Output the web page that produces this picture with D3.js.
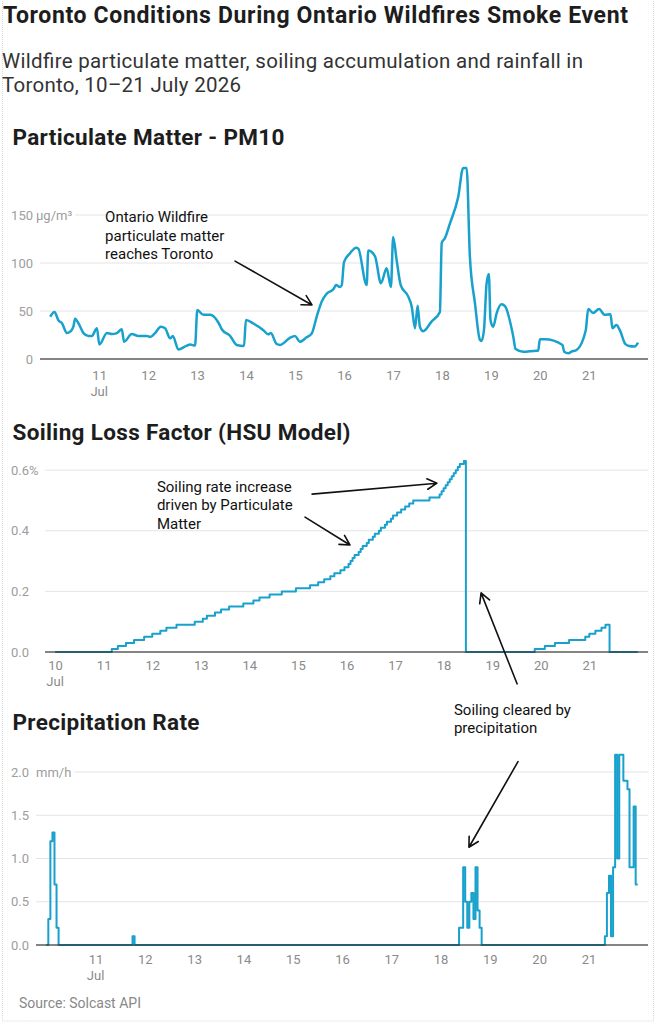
<!DOCTYPE html>
<html>
<head>
<meta charset="utf-8">
<script src="https://cdn.jsdelivr.net/npm/d3@7"></script>
<style>
  body { margin: 0; background: #fff; font-family: Roboto, sans-serif; }
</style>
</head>
<body>
<div id="chart"></div>
<script>
// hours are counted from 10 July 2026 00:00
const start = Date.UTC(2026, 6, 10);
const toDate = h => new Date(start + h * 3600e3);

// PM10, µg/m³
const pmHours = [0, 2.1, 4.1, 5.7, 8.2, 9.8, 11.4, 12.2, 13.9, 16.3, 18.8, 20.4, 22.9, 24.1, 27.8, 30.2, 32.7, 35.1, 36.2, 40,
  43.2, 47.4, 49, 51.4, 54.2, 56.3, 58.8, 60.1, 62.8, 67, 68.6, 71, 72.1, 75.1, 78.4, 82.4, 84.1, 88.2, 91.4, 95,
  95.9, 99.6, 104.5, 106.9, 108.1, 111, 112.7, 117.5, 120, 122.4, 125.7, 128.2, 130.6, 133.1, 135.5, 138.8, 140.1, 142, 142.9, 144,
  146.9, 149.9, 151, 155.1, 155.9, 159.2, 162.1, 164.9, 167, 168.1, 169.8, 171.8, 175.5, 177.2, 178.8, 180.1, 181.2, 182.8, 186.9, 191,
  191.9, 193.5, 195.9, 200, 202.4, 204.1, 205.7, 208.2, 210.6, 211.4, 212.6, 213.9, 215, 215.8, 217.1, 218.8, 221.2, 222.9, 227, 228.1,
  231.8, 238.4, 239.2, 240, 242.4, 251.1, 251.9, 254, 255.5, 258, 262.5, 263.7, 266.1, 269, 271.8, 274.6, 275.6, 277.5, 279.2, 281.9,
  283.7, 286.5, 288.1];
const pmValues = [44, 49, 40, 37.5, 27, 28.5, 34, 42, 37, 27, 24, 24, 32, 15, 27, 26, 27, 31, 18, 26,
  24, 24, 23, 27, 33.6, 32, 21.5, 24, 10, 14, 15, 14, 51, 46, 46, 38, 31, 24, 14.6, 13.5,
  40.6, 37, 30, 25.7, 27, 15.6, 14.6, 22, 24, 18, 22.6, 26.7, 44, 60, 68, 72.6, 77, 75, 77, 101,
  110, 116, 115, 77, 113, 107, 79, 94.5, 75, 127, 103, 77, 65, 54.5, 32, 55.5, 33.6, 29, 39, 49,
  121, 126, 141, 169, 199, 199, 106.6, 58, 20, 18.7, 30, 79, 88.5, 40.6, 33.6, 47.6, 57, 55, 23, 10.4,
  7.6, 8.7, 8.7, 20.5, 20.5, 14.6, 7.6, 6, 7.6, 9.4, 30, 52, 48, 52, 46, 46.5, 32, 35.4, 30, 15.6,
  13.5, 13, 17];

// soiling loss, %, at the hours where the value changes
const soilHours = [0, 28, 31, 35, 39, 44, 48, 52, 55, 60, 69, 73, 75, 79, 82, 86, 93, 98, 101, 106,
  112, 119, 126, 130, 133, 136, 138, 141, 143, 145, 146, 147, 148, 150, 151, 152, 154, 155, 157, 158,
  160, 161, 163, 164, 166, 167, 169, 171, 173, 175, 177, 185, 190, 191, 192, 193, 194, 195, 196, 197,
  198, 199, 200, 202, 203, 237, 242, 247, 254, 262, 264, 267, 270, 272, 274, 288];
const soilValues = [0, 0.01, 0.02, 0.03, 0.04, 0.05, 0.06, 0.07, 0.08, 0.09, 0.10, 0.11, 0.12, 0.13, 0.14, 0.15, 0.16, 0.17, 0.18, 0.19,
  0.20, 0.21, 0.22, 0.23, 0.24, 0.25, 0.26, 0.27, 0.28, 0.29, 0.30, 0.31, 0.32, 0.33, 0.34, 0.35, 0.36, 0.37, 0.38, 0.39,
  0.40, 0.41, 0.42, 0.43, 0.44, 0.45, 0.46, 0.47, 0.48, 0.49, 0.50, 0.51, 0.52, 0.53, 0.54, 0.55, 0.56, 0.57, 0.58, 0.59,
  0.60, 0.61, 0.62, 0.63, 0, 0.01, 0.02, 0.03, 0.04, 0.05, 0.06, 0.07, 0.08, 0.09, 0, 0];

// precipitation, mm/h, at the hours where the value changes
const rainHours = [0, 1, 2, 3, 4, 5, 6, 42, 43, 201, 203, 204, 205, 206, 207, 208, 209, 210, 211, 212,
  272, 273, 274, 275, 276, 277, 278, 279, 281, 283, 284, 286, 287, 288];
const rainValues = [0, 0.3, 1.2, 1.3, 0.7, 0.2, 0, 0.1, 0, 0.2, 0.9, 0.5, 0.2, 0.5, 0.6, 0.3, 0.9, 0.4, 0.2, 0,
  0.1, 0.6, 0.8, 0.1, 0.9, 2.2, 1.0, 2.2, 1.9, 1.8, 0.9, 1.6, 0.7, 0.7];

const pmTickDays = [11, 12, 13, 14, 15, 16, 17, 18, 19, 20, 21];
const soilTickDays = [10, 11, 12, 13, 14, 15, 16, 17, 18, 19, 20, 21];
const rainTickDays = [11, 12, 13, 14, 15, 16, 17, 18, 19, 20, 21];

const pmTicks = [0, 50, 100, 150];
const soilTicks = [0, 0.2, 0.4, 0.6];
const rainTicks = [0, 0.5, 1, 1.5, 2];

const blue = "#18a1cd";
const width = 660, height = 1024;

const svg = d3.select("#chart").append("svg")
    .attr("width", width)
    .attr("height", height)
    .style("font-family", "Roboto, sans-serif");

// faint frame round the graphic
svg.append("rect")
    .attr("x", 2.5).attr("y", -2).attr("width", 651).attr("height", 1023)
    .attr("fill", "none").attr("stroke", "#d8d8d8").attr("stroke-dasharray", "1,1");

// the headings in the original are set a little wider than plain Roboto, hence textLength
svg.append("text")
    .attr("x", 3).attr("y", 23)
    .attr("font-size", 23).attr("font-weight", 700).attr("fill", "#1d1d1d")
    .attr("textLength", 625)
    .text("Toronto Conditions During Ontario Wildfires Smoke Event");

svg.append("text")
    .attr("font-size", 20.5).attr("fill", "#333")
    .selectAll("tspan")
    .data([["Wildfire particulate matter, soiling accumulation and rainfall in", 581], ["Toronto, 10\u201321 July 2026", 239]])
    .join("tspan")
    .attr("x", 2).attr("y", (d, i) => 67.5 + i * 24.5)
    .attr("textLength", d => d[1])
    .text(d => d[0]);

svg.append("text")
    .attr("x", 19).attr("y", 1008)
    .attr("font-size", 14).attr("fill", "#888")
    .text("Source: Solcast API");

// x domain shared by the three panels: 9 Jul 19:00 to 22 Jul 05:00
const timeDomain = [toDate(-5), toDate(293)];

function panel(o) {
    const g = svg.append("g");
    const x = d3.scaleUtc().domain(timeDomain).range([o.left, 648]);
    const y = d3.scaleLinear().domain(o.yDomain).range([o.bottom, o.top]);

    g.append("text")
        .attr("x", 12.5).attr("y", o.titleY)
        .attr("font-size", 22.5).attr("font-weight", 700).attr("fill", "#1d1d1d")
        .attr("textLength", o.titleWidth)
        .text(o.title);

    // y labels, right aligned, unit after the top one
    const yl = g.append("g").attr("font-size", 13).attr("fill", "#9d9d9d");
    o.yTicks.forEach((t, i) => {
        const isTop = i === o.yTicks.length - 1;
        yl.append("text")
            .attr("x", o.labelEnd).attr("y", y(t)).attr("dy", "0.35em")
            .attr("text-anchor", "end")
            .text(o.yFormat(t));
        let gridStart = o.left;
        if (isTop) {
            const u = yl.append("text")
                .attr("x", o.labelEnd + o.unitGap).attr("y", y(t)).attr("dy", "0.35em")
                .text(o.unit);
            gridStart = Math.max(o.left, o.labelEnd + o.unitGap + u.node().getComputedTextLength() + 3);
        }
        if (t !== 0) {
            g.append("line")
                .attr("x1", gridStart).attr("x2", 648)
                .attr("y1", y(t)).attr("y2", y(t))
                .attr("stroke", "#e4e4e4").attr("stroke-width", 1);
        }
    });

    const line = d3.line()
        .x(d => x(toDate(d[0])))
        .y(d => y(d[1]))
        .curve(o.curve);

    g.append("path")
        .datum(d3.zip(o.hours, o.values))
        .attr("fill", "none")
        .attr("stroke", blue)
        .attr("stroke-width", o.strokeWidth)
        .attr("stroke-linejoin", "round")
        .attr("d", line);

    // baseline drawn over the series
    g.append("line")
        .attr("x1", o.left).attr("x2", 648)
        .attr("y1", y(0)).attr("y2", y(0))
        .attr("stroke", "#333").attr("stroke-opacity", 0.8).attr("stroke-width", 1.5);

    const axis = d3.axisBottom(x)
        .tickValues(o.tickDays.map(d => toDate((d - 10) * 24)))
        .tickSize(0)
        .tickPadding(0)
        .tickFormat(d3.utcFormat("%-d"));

    const ax = g.append("g")
        .attr("transform", `translate(0,${o.tickY})`)
        .call(axis);
    ax.select(".domain").remove();
    ax.selectAll("text")
        .attr("dy", 0)
        .attr("font-size", 13).attr("font-family", "Roboto, sans-serif").attr("fill", "#8a8a8a");

    g.append("text")
        .attr("x", x(toDate((o.tickDays[0] - 10) * 24))).attr("y", o.tickY + 16)
        .attr("text-anchor", "middle")
        .attr("font-size", 13).attr("fill", "#8a8a8a")
        .text("Jul");

    return { x, y };
}

const pm = panel({
    title: "Particulate Matter - PM10", titleY: 145, titleWidth: 272,
    left: 40, top: 167, bottom: 359, yDomain: [0, 200],
    yTicks: pmTicks, yFormat: d3.format("d"), unit: "\u00b5g/m\u00b3", unitGap: 3, labelEnd: 33,
    hours: pmHours, values: pmValues, curve: d3.curveMonotoneX, strokeWidth: 2.5,
    tickDays: pmTickDays, tickY: 380
});

const soil = panel({
    title: "Soiling Loss Factor (HSU Model)", titleY: 440, titleWidth: 338,
    left: 45, top: 455, bottom: 652, yDomain: [0, 0.65],
    yTicks: soilTicks, yFormat: d3.format(".1f"), unit: "%", unitGap: 0, labelEnd: 29,
    hours: soilHours, values: soilValues, curve: d3.curveStepAfter, strokeWidth: 2,
    tickDays: soilTickDays, tickY: 670
});

const rain = panel({
    title: "Precipitation Rate", titleY: 730, titleWidth: 187,
    left: 36, top: 754.7, bottom: 945, yDomain: [0, 2.2],
    yTicks: rainTicks, yFormat: d3.format(".1f"), unit: "mm/h", unitGap: 7, labelEnd: 29,
    hours: rainHours, values: rainValues, curve: d3.curveStepAfter, strokeWidth: 2,
    tickDays: rainTickDays, tickY: 964
});

// annotations: text and arrows placed in data units of their panel
function note(p, h, v, lines) {
    svg.append("text")
        .attr("font-size", 15).attr("fill", "#111")
        .selectAll("tspan")
        .data(lines)
        .join("tspan")
        .attr("x", p.x(toDate(h)))
        .attr("y", (d, i) => p.y(v) + i * 18.5)
        .text(d => d);
}

function arrow(p, from, to) {
    const x1 = p.x(toDate(from[0])), y1 = p.y(from[1]);
    const x2 = p.x(toDate(to[0])), y2 = p.y(to[1]);
    const a = Math.atan2(y2 - y1, x2 - x1);
    const len = 11, spread = 0.5;
    const path = d3.path();
    path.moveTo(x1, y1);
    path.lineTo(x2, y2);
    path.moveTo(x2 - len * Math.cos(a - spread), y2 - len * Math.sin(a - spread));
    path.lineTo(x2, y2);
    path.lineTo(x2 - len * Math.cos(a + spread), y2 - len * Math.sin(a + spread));
    svg.append("path")
        .attr("d", path.toString())
        .attr("fill", "none").attr("stroke", "#111").attr("stroke-width", 1.6)
        .attr("stroke-linecap", "round").attr("stroke-linejoin", "round");
}

note(pm, 26.9, 142.7, ["Ontario Wildfire", "particulate matter", "reaches Toronto"]);
arrow(pm, [90.6, 102], [128.3, 56.3]);

note(soil, 50.3, 0.529, ["Soiling rate increase", "driven by Particulate", "Matter"]);
arrow(soil, [127, 0.521], [188.7, 0.557]);
arrow(soil, [123.5, 0.445], [145.7, 0.353]);
arrow(soil, [228.3, -0.105], [210.5, 0.195]);

note(rain, 198.5, 2.66, ["Soiling cleared by", "precipitation"]);
arrow(rain, [229.7, 2.12], [205.8, 1.13]);
</script>
</body>
</html>
